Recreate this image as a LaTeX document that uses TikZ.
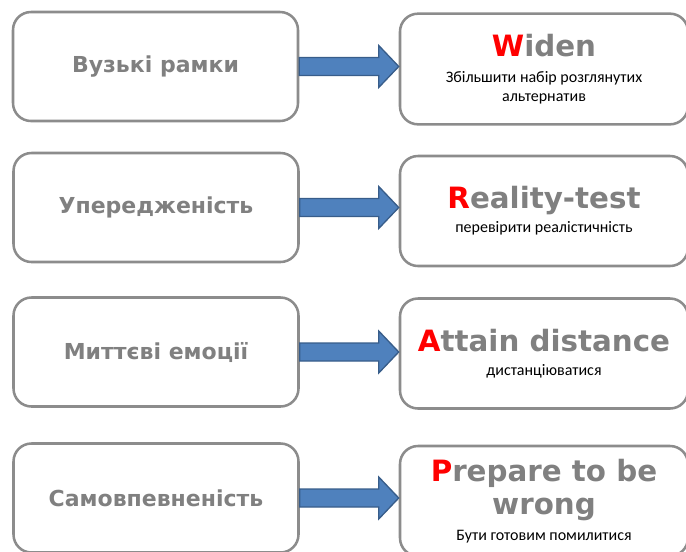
\documentclass[tikz,border=0pt]{standalone}
\usepackage{fontspec}
\setmainfont{DejaVu Sans}
\newfontfamily\subfont{Carlito}
\usetikzlibrary{calc}
\definecolor{boxgray}{HTML}{8C8C8C}
\definecolor{txtgray}{HTML}{808080}
\definecolor{arrfill}{HTML}{4F81BD}
\definecolor{arrline}{HTML}{385D8A}
\definecolor{capred}{HTML}{FF0000}
\newcommand{\initial}[1]{\textcolor{capred}{#1}}
\newcommand{\subtext}{\subfont\fontsize{12}{15}\selectfont\mdseries\color{black}}
% block arrow from the east side of #1 to the west side of #2
\newcommand{\blockarrow}[2]{%
  \draw[blockarr] ($(#1.east)+(0,-9)$) -- ($(#2.west |- #1.east)+(-20,-9)$)
    -- ($(#2.west |- #1.east)+(-20,-21)$) -- (#2.west |- #1.east)
    -- ($(#2.west |- #1.east)+(-20,21)$) -- ($(#2.west |- #1.east)+(-20,9)$)
    -- ($(#1.east)+(0,9)$) -- cycle;}

\begin{document}
\begin{tikzpicture}[x=0.75pt,y=-0.75pt,
  bias/.style={draw=boxgray, line width=1.9pt, rounded corners=13.5pt, fill=white,
               minimum width=213.75pt, minimum height=81.75pt,
               font=\fontsize{16.5}{19}\selectfont\bfseries, text=txtgray},
  remedy/.style={draw=boxgray, line width=1.9pt, rounded corners=13.5pt, fill=white,
                 minimum width=216pt, minimum height=82.5pt, align=center,
                 font=\fontsize{22}{25}\selectfont\bfseries, text=txtgray},
  blockarr/.style={draw=arrline, fill=arrfill, line width=1pt, line join=miter}
]
  \useasboundingbox (0,0) rectangle (686,551);

  \node[bias] (b1) at (155.5,66.5) {Вузькі рамки};
  \node[bias] (b2) at (156,207.5) {Упередженість};
  \node[bias] (b3) at (156,352) {Миттєві емоції};
  \node[bias] (b4) at (156,498) {Самовпевненість};

  \node[remedy, minimum height=83pt] (r1) at (544,69) {\initial{W}iden\\[-5pt]
    \subtext Збільшити набір розглянутих\\[-10.75pt]\subtext альтернатив};
  \node[remedy] (r2) at (544,211) {\initial{R}eality-test\\[-7pt]
    \subtext перевірити реалістичність};
  \node[remedy] (r3) at (544,353.5) {\initial{A}ttain distance\\[-7pt]
    \subtext дистанціюватися};
  \node[remedy] (r4) at (544,501) {\initial{P}repare to be\\wrong\\[-6pt]
    \subtext Бути готовим помилитися};

  \blockarrow{b1}{r1}
  \blockarrow{b2}{r2}
  \blockarrow{b3}{r3}
  \blockarrow{b4}{r4}
\end{tikzpicture}
\end{document}
